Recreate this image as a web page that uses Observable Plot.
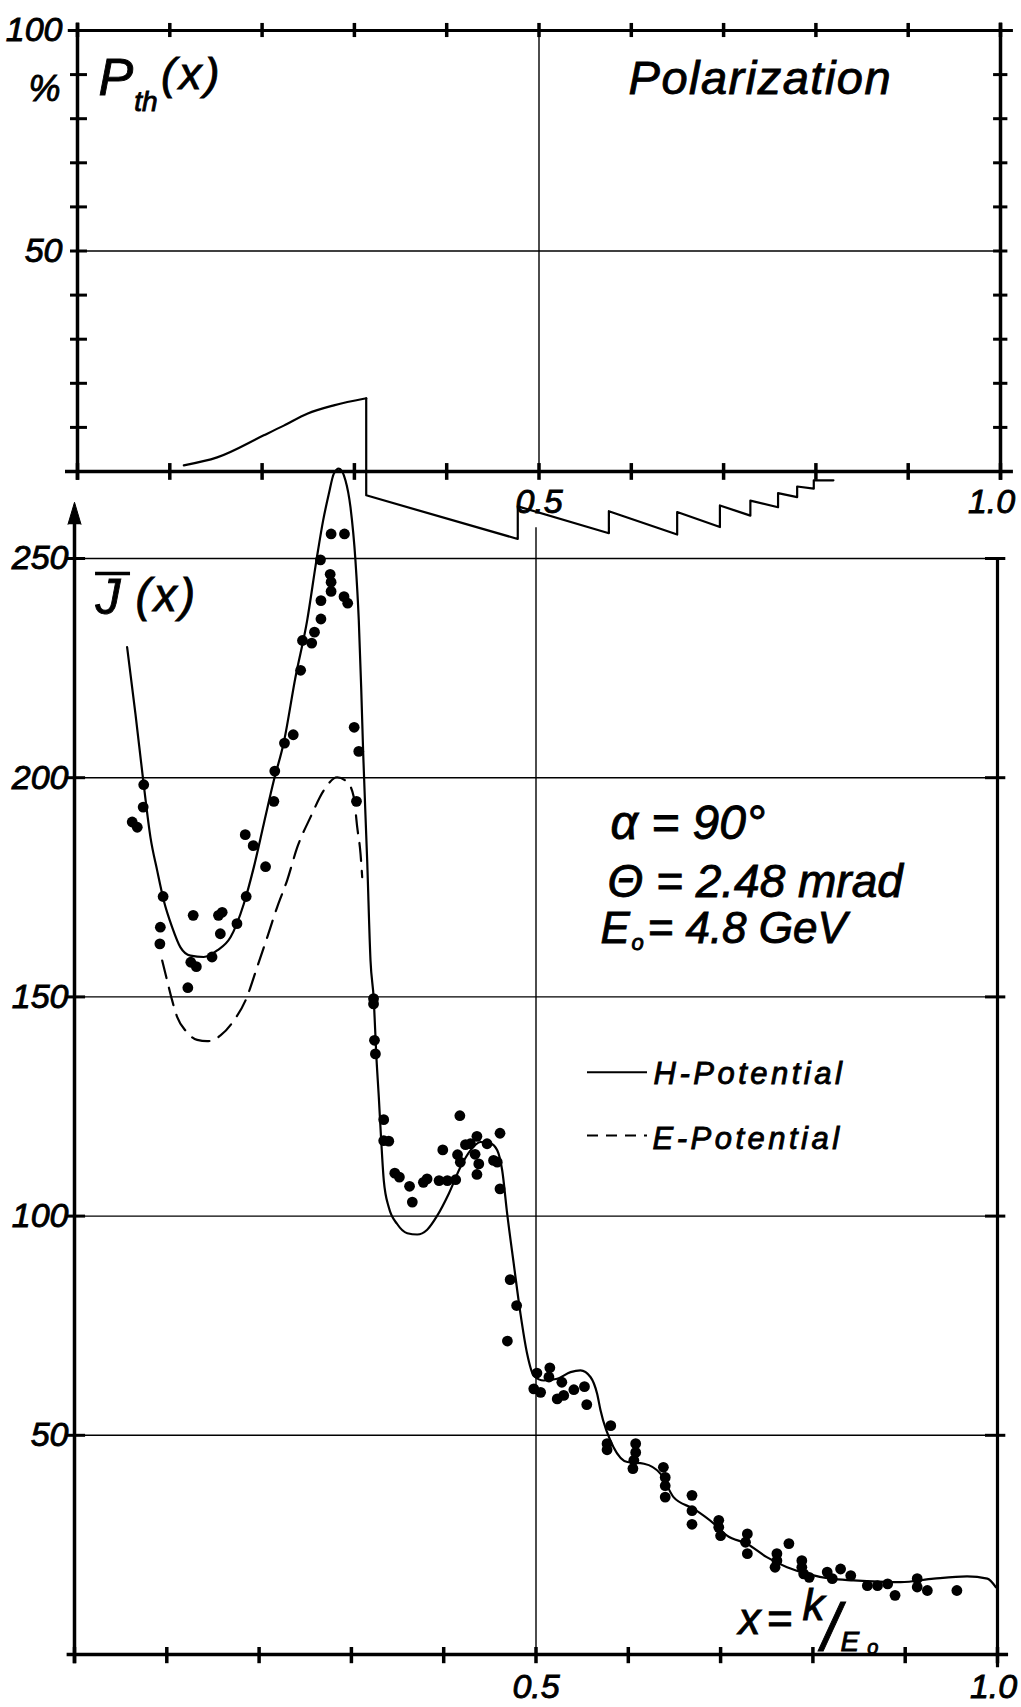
<!DOCTYPE html>
<html><head><meta charset="utf-8">
<script src="https://cdn.jsdelivr.net/npm/d3@7"></script>
<script src="https://cdn.jsdelivr.net/npm/@observablehq/plot@0.6"></script>
<style>
body{margin:0;background:#fff;}
#wrap{position:relative;width:1021px;height:1707px;}
#wrap svg{position:absolute;left:0;top:0;}
</style></head><body><div id="wrap"></div>
<script>
// ---------- data ----------
const xTicks = [0, 0.1, 0.2, 0.3, 0.4, 0.5, 0.6, 0.7, 0.8, 0.9, 1.0];
const xLabelMid = [0.5];
const xLabelEnd = [1.0];
const pTicks = [10, 20, 30, 40, 50, 60, 70, 80, 90];
const pLabels = [50, 100];
const jTicks = [50, 100, 150, 200, 250];

// Polarization P_th(x), %: smooth rising part
const pRiseX = [0.1152, 0.1513, 0.2018, 0.2235, 0.2489, 0.2777, 0.3102, 0.3128];
const pRiseP = [1.4, 3.2, 8.2, 10.4, 13.1, 15.0, 16.5, 16.6];
// sawtooth part (repeated x = discontinuity)
const pSawX = [0.3128, 0.3128, 0.4770, 0.4770, 0.5757, 0.5757, 0.6497, 0.6497, 0.6960, 0.6960, 0.7290, 0.7290, 0.7590, 0.7590, 0.7797, 0.7797, 0.7977, 0.7977, 0.8190];
const pSawP = [16.6, -5.4, -15.3, -7.9, -14.0, -9.0, -14.3, -9.2, -12.6, -7.7, -10.0, -6.6, -8.1, -4.9, -5.8, -3.4, -3.9, -2.0, -2.0];

// H-potential (solid)
const hX = [0.057, 0.066, 0.075, 0.0823, 0.0896, 0.0967, 0.1058, 0.1148, 0.1257, 0.140, 0.1546, 0.169, 0.1834, 0.1943, 0.2051, 0.216, 0.2268, 0.2394, 0.2521, 0.2622, 0.2694, 0.2755, 0.2809, 0.2864, 0.2936, 0.299, 0.3044, 0.308, 0.3106, 0.3128, 0.3171, 0.3207, 0.3243, 0.3269, 0.3297, 0.3323, 0.3351, 0.3405, 0.3496, 0.3605, 0.3713, 0.3821, 0.393, 0.4055, 0.4182, 0.429, 0.4399, 0.4507, 0.458, 0.4634, 0.4688, 0.4759, 0.4832, 0.4904, 0.4976, 0.5085, 0.523, 0.5374, 0.5482, 0.559, 0.5663, 0.5699, 0.584, 0.599, 0.617, 0.635, 0.649, 0.671, 0.693, 0.707, 0.729, 0.750, 0.772, 0.794, 0.819, 0.844, 0.895, 0.931, 0.967, 0.989, 0.998];
const hJ = [229.8, 214.6, 198.4, 186.4, 178.8, 172.0, 165.9, 161.3, 159.4, 159.1, 160.6, 163.6, 171.2, 179.6, 189.5, 199.4, 208.1, 222.9, 235.9, 249.7, 258.7, 264.7, 269.3, 270.5, 267.8, 261.7, 249.5, 235.9, 220.6, 205.4, 181.1, 158.3, 149.2, 137.0, 127.1, 117.2, 108.1, 102.0, 98.2, 96.1, 95.8, 96.9, 100.1, 105.1, 111.2, 115.0, 116.9, 116.6, 115.0, 110.4, 100.5, 89.1, 77.7, 68.6, 63.6, 62.5, 62.9, 64.4, 64.8, 63.3, 59.4, 55.7, 47.3, 43.9, 43.5, 41.2, 35.9, 33.2, 29.8, 27.1, 25.2, 22.2, 19.9, 18.4, 17.3, 16.9, 16.5, 17.3, 17.8, 17.3, 15.4];

// E-potential (dashed)
const eX = [0.095, 0.1004, 0.1058, 0.1113, 0.1203, 0.1329, 0.1438, 0.1582, 0.1726, 0.1853, 0.1979, 0.2088, 0.2196, 0.2304, 0.2413, 0.2557, 0.2701, 0.2846, 0.2955, 0.3026, 0.3063, 0.3099, 0.3117];
const eJ = [158.3, 153.7, 149.2, 145.4, 142.3, 140.2, 139.9, 141.2, 144.6, 149.2, 156.8, 163.6, 170.5, 176.6, 184.1, 191.0, 197.1, 200.1, 199.0, 195.6, 188.7, 182.6, 177.3];

// measured points
const dotX = [0.278, 0.2925, 0.2665, 0.277, 0.278, 0.278, 0.267, 0.292, 0.296, 0.267, 0.260, 0.247, 0.257, 0.245, 0.303, 0.237, 0.2275, 0.308, 0.217, 0.075,
  0.0744, 0.0625, 0.068, 0.216, 0.3055, 0.185, 0.1936, 0.207, 0.096, 0.186, 0.1286, 0.160, 0.156, 0.176, 0.093, 0.158, 0.0925, 0.149, 0.126, 0.132, 0.1228, 0.324, 0.324, 0.325, 0.326,
  0.335, 0.335, 0.3405, 0.347, 0.352, 0.363, 0.366, 0.378, 0.382, 0.395, 0.404, 0.413, 0.399, 0.4175, 0.415, 0.418, 0.4236, 0.429, 0.436, 0.434, 0.438, 0.436, 0.447, 0.454, 0.458, 0.461, 0.461, 0.472, 0.479, 0.469, 0.501, 0.515, 0.514, 0.4976, 0.505, 0.528, 0.541, 0.5525, 0.523, 0.530, 0.555,
  0.581, 0.577, 0.577, 0.608, 0.608, 0.606, 0.605, 0.638, 0.640, 0.640, 0.640, 0.669, 0.669, 0.669, 0.698, 0.698, 0.700, 0.729, 0.727, 0.729, 0.774, 0.761, 0.761, 0.759, 0.788, 0.788, 0.790, 0.796, 0.8155, 0.821, 0.830, 0.841, 0.859, 0.870, 0.881, 0.889, 0.913, 0.913, 0.924, 0.956];
const dotJ = [255.6, 255.6, 249.7, 246.4, 244.6, 242.5, 240.4, 241.3, 239.8, 236.2, 233.2, 231.3, 230.7, 224.5, 211.5, 209.8, 207.9, 206.0, 201.5, 198.4,
  193.3, 189.9, 188.7, 194.6, 194.6, 187.0, 184.5, 179.7, 172.9, 172.9, 168.6, 169.3, 168.6, 166.7, 165.9, 164.4, 162.1, 159.1, 157.9, 156.9, 152.1, 149.6, 148.4, 140.1, 137.0,
  122.0, 117.2, 117.1, 109.8, 108.9, 106.8, 103.2, 107.7, 108.5, 108.1, 108.1, 108.3, 115.1, 122.9, 114.0, 112.3, 116.3, 116.5, 118.2, 114.1, 111.9, 109.5, 116.5, 112.7, 112.3, 118.9, 106.2, 85.5, 79.6, 71.5, 64.2, 65.4, 63.3, 60.6, 59.8, 62.1, 60.4, 61.1, 58.3, 59.1, 57.0,
  52.2, 48.1, 46.7, 48.1, 46.1, 44.3, 42.4, 42.7, 40.4, 38.5, 35.9, 36.3, 32.8, 29.7, 30.6, 29.0, 27.1, 27.5, 25.6, 23.0, 25.3, 23.0, 21.4, 19.9, 21.4, 19.9, 18.4, 17.6, 18.8, 17.3, 19.5, 18.0, 15.7, 15.7, 16.1, 13.5, 17.3, 15.4, 14.6, 14.6];

// ---------- styling ----------
const FONT = "'Liberation Sans', Arial, 'DejaVu Sans', sans-serif";
const svgStyle = {background: "transparent", fontFamily: FONT, fontStyle: "italic", overflow: "visible", color: "#000"};
const W = 1021, H = 1707;
const txt = (s, o) => Plot.text([s], {text: d => d, textAnchor: "start", lineAnchor: "bottom", fill: "#000", ...o});
const fmt = d3.format(".1f");

// ---------- bottom panel: J(x) ----------
const bottomPlot = Plot.plot({
  width: W, height: H,
  marginLeft: 74, marginRight: W - 997, marginTop: 558, marginBottom: H - 1654,
  style: svgStyle,
  x: {domain: [0, 1], label: null},
  y: {domain: [0, 250], label: null},
  marks: [
    Plot.ruleY(jTicks, {x1: 0, x2: 1, strokeWidth: 1.4}),
    Plot.ruleX([0.5], {y1: 0, y2: 257, strokeWidth: 1.4}),
    Plot.ruleX([0], {y1: -2.1, y2: 258, strokeWidth: 3.5}),
    Plot.vector([0], {x: 0, y: 257.8, length: 22, r: 6.5, shape: "spike", anchor: "start", fill: "#000", stroke: "#000", strokeWidth: 1}),
    Plot.ruleX([1], {y1: -3, y2: 250.2, strokeWidth: 3.2}),
    Plot.ruleY([0], {x1: -0.008, x2: 1.012, strokeWidth: 3.5}),
    Plot.ruleY(jTicks, {x1: -0.0076, x2: 0.012, strokeWidth: 3}),
    Plot.ruleY(jTicks, {x1: 0.987, x2: 1.009, strokeWidth: 3}),
    Plot.ruleX(xTicks, {y1: -2.1, y2: 1.6, strokeWidth: 3.5}),
    Plot.axisY({ticks: jTicks, tickSize: 0, tickPadding: 6, fontSize: 34, label: null}),
    Plot.axisX({ticks: xLabelMid, tickSize: 0, tickPadding: 19, fontSize: 34, label: null, tickFormat: fmt}),
    Plot.axisX({ticks: xLabelEnd, tickSize: 0, tickPadding: 19, fontSize: 34, label: null, tickFormat: fmt, dx: -4}),
    Plot.line(eX, {x: eX, y: eJ, curve: "monotone-x", strokeWidth: 2.2, strokeDasharray: "18,10"}),
    Plot.line(hX, {x: hX, y: hJ, curve: "monotone-x", strokeWidth: 2.2}),
    Plot.dot(dotX, {x: dotX, y: dotJ, r: 5.4, fill: "#000", stroke: "none"}),
    // J-bar(x) label
    txt("J", {x: 0.0228, y: 237.3, fontSize: 50}),
    Plot.ruleY([246.6], {x1: 0.0228, x2: 0.0607, strokeWidth: 3.5}),
    txt("(x)", {x: 0.0661, y: 238.1, fontSize: 46}),
    // parameters
    txt("α = 90°", {x: 0.5807, y: 186.1, fontSize: 48}),
    txt("Θ = 2.48 mrad", {x: 0.5775, y: 172.7, fontSize: 46}),
    txt("E", {x: 0.5699, y: 162.4, fontSize: 44}),
    txt("o", {x: 0.6035, y: 160.6, fontSize: 22}),
    txt("= 4.8 GeV", {x: 0.6208, y: 162.4, fontSize: 44}),
    // legend
    Plot.ruleY([132.8], {x1: 0.5558, x2: 0.6208, strokeWidth: 2}),
    txt("H-Potential", {x: 0.6273, y: 130.2, fontSize: 31}),
    Plot.ruleY([118.4], {x1: 0.5558, x2: 0.6208, strokeWidth: 2, strokeDasharray: "11,8"}),
    txt("E-Potential", {x: 0.6262, y: 115.4, fontSize: 31}),
    // x = k/E0
    txt("x=", {x: 0.7194, y: 4.79, fontSize: 44}),
    txt("k", {x: 0.7887, y: 7.76, fontSize: 44}),
    txt("/", {x: 0.8095, y: 1.14, fontSize: 66}),
    txt("E", {x: 0.8300, y: 0.91, fontSize: 28}),
    txt("o", {x: 0.859, y: 0.2, fontSize: 20})
  ]
});

// ---------- top panel: P_th(x) ----------
const topPlot = Plot.plot({
  width: W, height: H,
  marginLeft: 77, marginRight: W - 1000, marginTop: 30, marginBottom: H - 471,
  style: svgStyle,
  x: {domain: [0, 1], label: null},
  y: {domain: [0, 100], label: null},
  marks: [
    Plot.ruleY([50], {x1: 0, x2: 1, strokeWidth: 1.4}),
    Plot.ruleX([0.5], {y1: 0, y2: 100, strokeWidth: 1.4}),
    Plot.ruleX([0, 1], {y1: -2, y2: 101.7, strokeWidth: 3.5}),
    Plot.ruleY([100], {x1: -0.01, x2: 1.014, strokeWidth: 3}),
    Plot.ruleY([0], {x1: -0.013, x2: 1.014, strokeWidth: 3.5}),
    Plot.ruleY(pTicks, {x1: -0.0076, x2: 0.0108, strokeWidth: 3}),
    Plot.ruleY(pTicks, {x1: 0.9925, x2: 1.008, strokeWidth: 3}),
    Plot.ruleX(xTicks, {y1: 98.4, y2: 101.6, strokeWidth: 3.5}),
    Plot.ruleX(xTicks, {y1: -2, y2: 1.8, strokeWidth: 3.5}),
    Plot.axisY({ticks: pLabels, tickSize: 0, tickPadding: 15, fontSize: 34, label: null}),
    Plot.axisX({ticks: xLabelMid, tickSize: 0, tickPadding: 17, fontSize: 34, label: null, tickFormat: fmt}),
    Plot.axisX({ticks: xLabelEnd, tickSize: 0, tickPadding: 17, fontSize: 34, label: null, tickFormat: fmt, dx: -9}),
    Plot.line(pRiseX, {x: pRiseX, y: pRiseP, curve: "monotone-x", strokeWidth: 2.2}),
    Plot.line(pSawX, {x: pSawX, y: pSawP, strokeWidth: 2.2}),
    txt("%", {x: -0.053, y: 84.1, fontSize: 36}),
    txt("P", {x: 0.0228, y: 85.3, fontSize: 52}),
    txt("th", {x: 0.0615, y: 81.8, fontSize: 28}),
    txt("(x)", {x: 0.0905, y: 86.8, fontSize: 45}),
    txt("Polarization", {x: 0.597, y: 85.7, fontSize: 47})
  ]
});

const wrap = document.getElementById("wrap");
wrap.appendChild(bottomPlot);
wrap.appendChild(topPlot);

// text weight and letter spacing tweaks (styling only)
const spacing = {"H-Potential": 3.5, "E-Potential": 3.5, "(x)": 3, "Polarization": 1.5, "x=": 6};
d3.selectAll("#wrap text").each(function() {
  this.setAttribute("stroke", "#000");
  this.setAttribute("stroke-width", 0.9);
  const s = spacing[this.textContent];
  if (s) this.setAttribute("letter-spacing", s);
});
</script></body></html>
